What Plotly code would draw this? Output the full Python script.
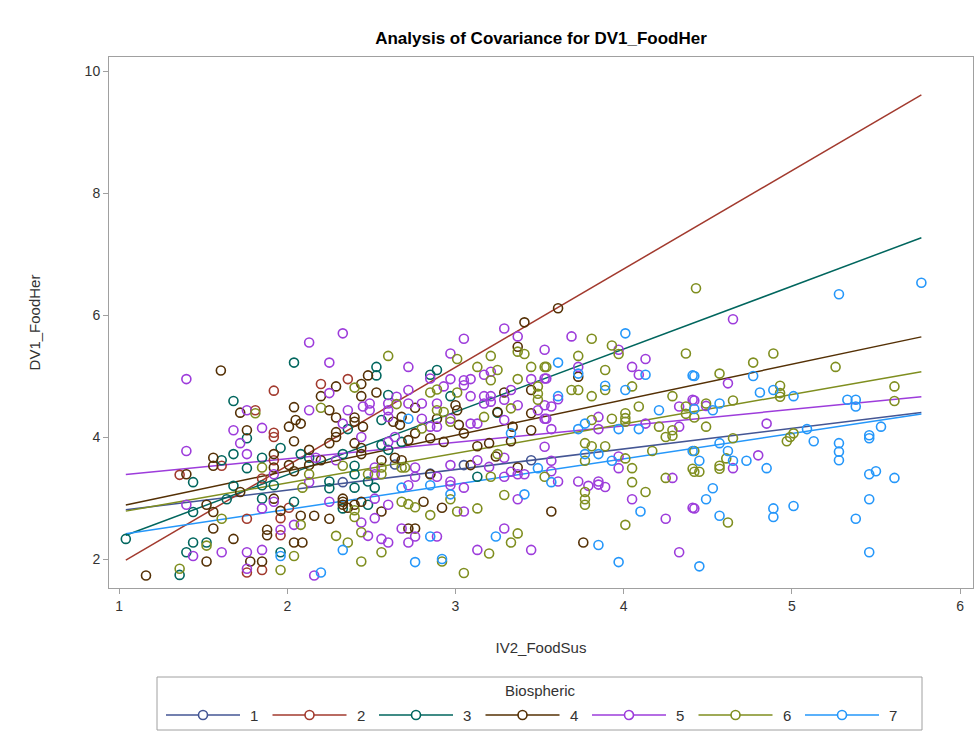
import plotly.graph_objects as go

# Biospheric groups and SAS HTMLBlue style colours
groups = ["1", "2", "3", "4", "5", "6", "7"]
colors = ["#445694", "#A23A2E", "#01665E", "#543005", "#9D3CDB", "#7F8E1F", "#2597FA"]

# Fitted separate-slope lines per group: intercept at IV2 = 0 and slope
intercepts = [2.456, 0.307, 1.318, 2.278, 3.107, 2.283, 1.982]
slopes = [0.337, 1.612, 1.031, 0.583, 0.269, 0.483, 0.415]

# Observations (IV2_FoodSus, DV1_FoodHer) by group
x1 = [2.33, 2.64, 3.05, 3.45, 2.85]
y1 = [3.26, 3.55, 3.54, 3.62, 3.40]

x2 = [1.81, 2.36, 2.20, 1.92, 1.92, 1.61, 1.36, 1.76, 1.76, 1.92, 1.92, 1.85, 2.01, 1.96, 1.96, 1.85]
y2 = [4.44, 4.95, 4.87, 4.76, 4.07, 3.53, 3.38, 2.66, 1.78, 4.00, 3.62, 3.32, 2.84, 2.67, 2.39, 1.82]

x3 = [1.68, 2.04, 2.53, 2.53, 2.60, 2.56, 2.36, 2.89, 2.85, 2.97, 3.25, 1.61, 1.68, 1.76, 1.76, 1.44,
      1.68, 1.64, 1.44, 1.04, 1.44, 1.52, 1.40, 1.36, 2.68, 1.85, 1.96, 2.08, 2.13, 2.33, 2.56, 2.60,
      2.40, 2.40, 1.85, 1.92, 2.25, 2.25, 2.40, 2.48, 2.52, 1.85, 2.04, 2.33, 2.48, 1.96, 3.13]
y3 = [4.59, 5.22, 5.15, 5.01, 4.69, 4.28, 4.13, 5.10, 5.02, 4.67, 4.40, 3.62, 3.72, 3.98, 3.49, 3.26,
      3.20, 2.98, 2.77, 2.33, 2.27, 2.27, 2.11, 1.74, 3.92, 3.66, 3.82, 3.72, 3.66, 3.72, 3.87, 3.79,
      3.53, 3.39, 3.21, 3.21, 3.27, 3.16, 3.17, 3.27, 3.17, 2.99, 2.94, 2.83, 2.89, 2.11, 3.35]

x4 = [1.605, 1.72, 1.76, 2.48, 2.29, 2.44, 2.20, 2.44, 2.53, 2.04, 2.25, 2.29, 2.40, 2.01, 2.05, 2.08,
      2.40, 2.45, 2.63, 2.67, 2.29, 3.41, 3.37, 3.29, 3.45, 2.76, 3.00, 3.01, 3.25, 3.45, 2.68, 2.89,
      3.02, 3.34, 3.45, 2.76, 3.05, 3.61, 3.73, 1.56, 1.56, 1.40, 1.72, 1.52, 1.56, 1.56, 1.68, 1.52,
      1.16, 1.78, 2.04, 2.25, 2.29, 2.40, 1.92, 2.13, 2.20, 2.44, 2.44, 2.56, 2.64, 2.68, 1.92, 2.01,
      2.04, 2.13, 1.92, 1.96, 2.33, 2.33, 2.33, 2.36, 2.40, 2.44, 2.56, 2.08, 2.16, 2.25, 1.88, 1.88,
      2.04, 2.09, 1.85, 2.92, 2.81, 2.72, 2.76, 2.85, 3.09, 3.24, 3.37, 3.57, 3.76, 3.13, 3.20, 3.33,
      2.72, 2.85, 2.93]
y4 = [5.09, 4.40, 4.11, 5.01, 4.83, 4.87, 4.67, 4.67, 4.73, 4.49, 4.44, 4.32, 4.32, 4.17, 4.28, 4.22,
      4.25, 4.17, 4.25, 4.20, 4.08, 5.88, 5.48, 4.73, 4.77, 4.48, 4.52, 4.44, 4.41, 4.39, 4.33, 4.30,
      4.20, 4.17, 4.11, 4.06, 4.06, 6.11, 4.99, 3.66, 3.53, 3.39, 3.10, 2.89, 2.77, 2.50, 2.33, 1.96,
      1.73, 1.96, 3.93, 3.90, 4.00, 3.90, 3.72, 3.79, 3.62, 3.82, 3.72, 3.62, 3.66, 3.62, 3.50, 3.54,
      3.44, 3.54, 2.99, 2.79, 2.99, 2.94, 2.89, 2.84, 2.89, 2.94, 2.78, 2.71, 2.71, 2.66, 2.48, 2.39,
      2.27, 2.27, 1.96, 2.84, 2.94, 2.50, 2.50, 3.39, 3.54, 3.68, 3.50, 2.78, 2.27, 3.85, 3.90, 3.93,
      3.95, 3.98, 3.92]

x5 = [1.40, 1.76, 1.68, 2.33, 2.13, 2.25, 2.25, 2.65, 2.13, 2.36, 2.45, 2.49, 2.49, 2.60, 2.60, 2.60,
      2.33, 1.85, 3.29, 3.05, 3.37, 3.53, 2.97, 2.72, 2.85, 3.17, 3.21, 2.97, 3.05, 3.09, 3.05, 2.93,
      3.45, 3.53, 2.72, 3.09, 3.17, 3.21, 3.33, 2.72, 2.80, 2.89, 3.17, 3.21, 3.29, 3.37, 3.53, 3.49,
      2.80, 2.97, 3.29, 3.09, 3.13, 3.53, 2.85, 2.89, 3.69, 3.97, 3.73, 3.54, 4.05, 4.13, 4.09, 3.61,
      3.57, 4.33, 4.41, 3.85, 3.85, 4.13, 4.33, 3.57, 3.54, 4.65, 4.62, 4.42, 4.49, 4.85, 1.40, 1.72,
      1.76, 1.40, 1.44, 1.61, 1.76, 1.76, 2.44, 2.60, 2.64, 2.17, 2.29, 1.92, 2.52, 2.52, 2.13, 1.85,
      1.92, 2.25, 2.52, 2.60, 2.04, 2.44, 2.52, 2.48, 2.56, 2.60, 1.96, 1.85, 2.16, 2.68, 3.37, 3.05,
      3.05, 2.97, 2.97, 2.72, 2.76, 2.72, 2.89, 3.29, 3.13, 3.45, 2.76, 2.76, 2.89, 2.97, 3.13, 3.20,
      3.29, 3.33, 3.37, 3.41, 3.29, 3.53, 3.57, 3.57, 3.61, 3.73, 3.79, 3.85, 3.85, 3.89, 3.97, 3.97,
      4.29, 4.05, 4.25, 4.41, 4.33, 4.80, 4.65, 4.42]
y5 = [4.95, 4.44, 4.11, 5.70, 5.55, 5.22, 4.72, 4.66, 4.44, 4.44, 4.50, 4.55, 4.44, 4.55, 4.44, 4.33,
      4.22, 4.15, 5.78, 5.61, 5.65, 5.43, 5.37, 5.15, 4.96, 5.02, 5.07, 4.95, 4.93, 4.95, 4.85, 4.83,
      4.95, 4.96, 4.77, 4.67, 4.67, 4.67, 4.77, 4.55, 4.55, 4.55, 4.55, 4.58, 4.61, 4.52, 4.52, 4.44,
      4.30, 4.30, 4.28, 4.22, 4.22, 4.30, 4.17, 4.17, 5.65, 5.43, 5.15, 4.96, 5.15, 5.28, 5.02, 4.62,
      4.50, 4.50, 4.61, 4.33, 4.13, 4.22, 4.17, 4.13, 4.30, 5.93, 4.88, 4.60, 4.51, 4.22, 3.77, 3.90,
      3.72, 2.89, 2.05, 2.11, 2.11, 1.84, 4.00, 3.92, 4.00, 3.66, 3.62, 3.39, 3.50, 3.39, 3.26, 2.83,
      2.94, 2.94, 2.99, 2.89, 2.56, 2.60, 2.67, 2.38, 2.33, 2.27, 2.48, 2.15, 1.73, 2.50, 2.98, 2.78,
      3.17, 3.27, 3.21, 3.21, 2.37, 2.27, 2.37, 2.50, 2.15, 2.15, 3.50, 3.35, 3.35, 3.54, 3.62, 3.51,
      3.66, 3.43, 3.39, 3.39, 3.35, 3.84, 3.61, 3.44, 3.27, 3.27, 3.20, 3.27, 3.22, 3.18, 3.49, 3.68,
      3.33, 2.98, 2.66, 2.84, 2.11, 3.70, 3.49, 2.83]

x6 = [1.81, 2.60, 2.40, 2.20, 2.65, 3.01, 3.37, 3.41, 3.21, 3.13, 3.25, 3.21, 3.45, 3.53, 3.37, 2.85,
      2.89, 3.01, 3.49, 3.49, 3.49, 2.89, 3.33, 2.93, 2.97, 3.17, 2.80, 4.43, 3.81, 3.93, 3.97, 3.73,
      3.54, 3.89, 4.37, 3.69, 3.73, 3.81, 3.89, 4.05, 4.29, 4.09, 4.37, 4.37, 4.01, 4.01, 4.01, 3.93,
      3.81, 4.21, 4.29, 4.89, 4.77, 5.26, 4.57, 4.93, 4.93, 4.93, 4.65, 4.49, 4.42, 4.49, 5.01, 5.61,
      5.61, 1.61, 1.52, 1.36, 1.85, 2.13, 2.33, 2.48, 2.56, 2.56, 2.68, 2.09, 2.40, 2.40, 2.08, 2.44,
      2.29, 2.36, 2.04, 1.96, 2.44, 2.56, 3.29, 3.13, 3.01, 2.85, 2.97, 2.72, 2.76, 2.68, 3.33, 3.37,
      3.20, 2.92, 3.05, 3.21, 3.53, 3.25, 2.70, 4.17, 4.41, 4.25, 4.05, 4.01, 3.77, 3.81, 3.89, 3.77,
      3.77, 3.77, 3.77, 4.05, 4.13, 4.01, 4.25, 4.29, 4.97, 4.99, 4.65, 4.42, 4.61, 4.57, 4.57, 4.42,
      4.45, 4.62]
y6 = [4.39, 5.33, 4.81, 4.48, 4.54, 5.28, 5.40, 5.36, 5.33, 5.15, 5.10, 4.93, 5.15, 5.15, 4.95, 4.73,
      4.78, 4.73, 4.83, 4.71, 4.61, 4.44, 4.47, 4.41, 4.25, 4.33, 4.14, 6.44, 5.61, 5.50, 5.36, 5.33,
      5.15, 5.10, 5.37, 4.77, 4.77, 4.67, 4.77, 4.83, 4.67, 4.50, 4.50, 4.38, 4.39, 4.31, 4.25, 4.30,
      4.28, 4.17, 4.11, 5.37, 5.22, 5.15, 5.04, 4.84, 4.72, 4.66, 4.60, 4.55, 4.32, 4.17, 4.06, 4.83,
      4.59, 2.66, 2.22, 1.84, 3.50, 3.39, 3.53, 3.39, 3.50, 3.39, 3.50, 3.17, 2.80, 2.69, 2.56, 2.44,
      2.38, 2.27, 2.05, 1.82, 1.96, 2.11, 3.05, 2.83, 2.78, 2.72, 2.98, 2.90, 2.85, 2.94, 2.27, 2.42,
      2.09, 1.96, 1.77, 3.35, 3.35, 3.72, 3.50, 3.77, 3.48, 3.33, 3.49, 3.65, 3.61, 3.85, 3.85, 3.90,
      3.10, 2.98, 2.89, 3.26, 3.10, 2.56, 4.00, 4.02, 3.93, 4.00, 3.98, 3.77, 3.65, 3.53, 3.48, 3.43,
      3.43, 2.60]

x7 = [2.72, 3.33, 4.01, 3.61, 3.73, 4.13, 4.41, 3.89, 4.01, 3.61, 4.21, 3.77, 3.97, 4.09, 3.73, 5.28,
      5.77, 4.42, 4.77, 4.81, 4.89, 5.01, 4.57, 4.53, 4.42, 5.09, 5.33, 5.38, 5.38, 5.53, 5.46, 1.96,
      2.33, 2.20, 3.41, 2.97, 2.85, 2.68, 2.85, 3.24, 2.76, 2.92, 3.49, 4.41, 3.93, 3.85, 3.77, 3.57,
      4.10, 3.85, 3.97, 4.45, 5.13, 5.28, 5.28, 5.28, 4.57, 4.45, 4.62, 4.65, 4.73, 4.85, 4.53, 4.49,
      4.57, 4.89, 4.89, 5.01, 5.46, 5.46, 5.50, 5.61, 5.46, 5.38, 5.46]
y7 = [4.30, 4.06, 5.70, 5.22, 5.04, 5.02, 5.01, 4.84, 4.77, 4.67, 4.44, 4.22, 4.13, 4.13, 4.13, 6.34,
      6.53, 5.00, 5.00, 4.73, 4.77, 4.67, 4.55, 4.44, 4.46, 4.13, 4.61, 4.61, 4.50, 4.17, 4.03, 2.05,
      2.15, 1.78, 3.06, 3.06, 3.21, 3.17, 2.37, 2.37, 1.95, 2.00, 3.49, 3.77, 3.61, 3.72, 3.72, 3.26,
      2.78, 2.23, 1.95, 1.88, 3.93, 3.90, 3.76, 3.62, 3.90, 3.61, 3.77, 3.61, 3.61, 3.49, 3.16, 2.98,
      2.71, 2.83, 2.69, 2.87, 3.98, 3.39, 3.44, 3.33, 2.98, 2.66, 2.11]

xs = [x1, x2, x3, x4, x5, x6, x7]
ys = [y1, y2, y3, y4, y5, y6, y7]

font_family = "Liberation Sans, Arial, sans-serif"
text_color = "#333333"
frame_color = "#a0a0a0"
fig = go.Figure()

# Fit lines span the full observed range of IV2_FoodSus
all_x = [v for grp in xs for v in grp]
x_lo, x_hi = min(all_x), max(all_x)
for g, c, b0, b1 in zip(groups, colors, intercepts, slopes):
    fig.add_trace(go.Scatter(
        x=[x_lo, x_hi], y=[b0 + b1 * x_lo, b0 + b1 * x_hi],
        mode="lines", line=dict(color=c, width=1.5),
        showlegend=False, hoverinfo="skip"))

for g, c, gx, gy in zip(groups, colors, xs, ys):
    fig.add_trace(go.Scatter(
        x=gx, y=gy, mode="markers", name=g,
        marker=dict(symbol="circle-open", size=9, color=c, line=dict(width=1.6)),
        showlegend=False))

axis_common = dict(
    showline=True, linecolor=frame_color, linewidth=1, mirror=True,
    ticks="outside", ticklen=5, tickcolor=frame_color,
    showgrid=False, zeroline=False,
    tickfont=dict(family=font_family, size=14, color=text_color),
)

# Plot frame in pixels: left 109, right 973, top 57, bottom 588
L, R, T, B = 109, 973, 57, 588
W, H = 979, 740
pw, ph = R - L, B - T


def px_x(p):
    """Page pixel column -> paper x."""
    return (p - L) / pw


def px_y(p):
    """Page pixel row -> paper y."""
    return (B - p) / ph


# Group key below the plot: framed box, title, then a row of line+circle keys
shapes = [dict(type="rect", xref="paper", yref="paper",
               x0=px_x(157), x1=px_x(922), y0=px_y(730), y1=px_y(677),
               line=dict(color=frame_color, width=1), fillcolor="rgba(0,0,0,0)")]
annotations = [dict(text="Biospheric", xref="paper", yref="paper",
                    x=px_x(540), y=px_y(690), xanchor="center", yanchor="middle",
                    showarrow=False, font=dict(family=font_family, size=15, color=text_color))]
key_start, key_step, key_row = 166, 106.5, 715
for i, (g, c) in enumerate(zip(groups, colors)):
    x0 = key_start + i * key_step
    shapes.append(dict(type="line", xref="paper", yref="paper",
                       x0=px_x(x0), x1=px_x(x0 + 74), y0=px_y(key_row), y1=px_y(key_row),
                       line=dict(color=c, width=1.5)))
    shapes.append(dict(type="circle", xref="paper", yref="paper",
                       x0=px_x(x0 + 37 - 4.5), x1=px_x(x0 + 37 + 4.5),
                       y0=px_y(key_row + 4.5), y1=px_y(key_row - 4.5),
                       line=dict(color=c, width=1.6), fillcolor="white"))
    annotations.append(dict(text=g, xref="paper", yref="paper",
                            x=px_x(x0 + 82), y=px_y(key_row), xanchor="left", yanchor="middle",
                            showarrow=False,
                            font=dict(family=font_family, size=15, color=text_color)))

fig.update_layout(
    width=W, height=H,
    paper_bgcolor="white", plot_bgcolor="white",
    margin=dict(l=L, r=W - R, t=T, b=H - B, autoexpand=False),
    title=dict(text="<b>Analysis of Covariance for DV1_FoodHer</b>",
               x=(L + R) / 2 / W, xanchor="center", y=1 - 38 / H, yanchor="middle",
               font=dict(family=font_family, size=17, color="black")),
    xaxis=dict(range=[0.940, 6.077], tickvals=[1, 2, 3, 4, 5, 6],
               title=dict(text="IV2_FoodSus", standoff=29,
                          font=dict(family=font_family, size=15, color=text_color)),
               **axis_common),
    yaxis=dict(range=[1.525, 10.23], tickvals=[2, 4, 6, 8, 10],
               title=dict(text="DV1_FoodHer", standoff=40,
                          font=dict(family=font_family, size=15, color=text_color)),
               **axis_common),
    showlegend=False,
    shapes=shapes,
    annotations=annotations,
)

fig.write_html("out.html")
